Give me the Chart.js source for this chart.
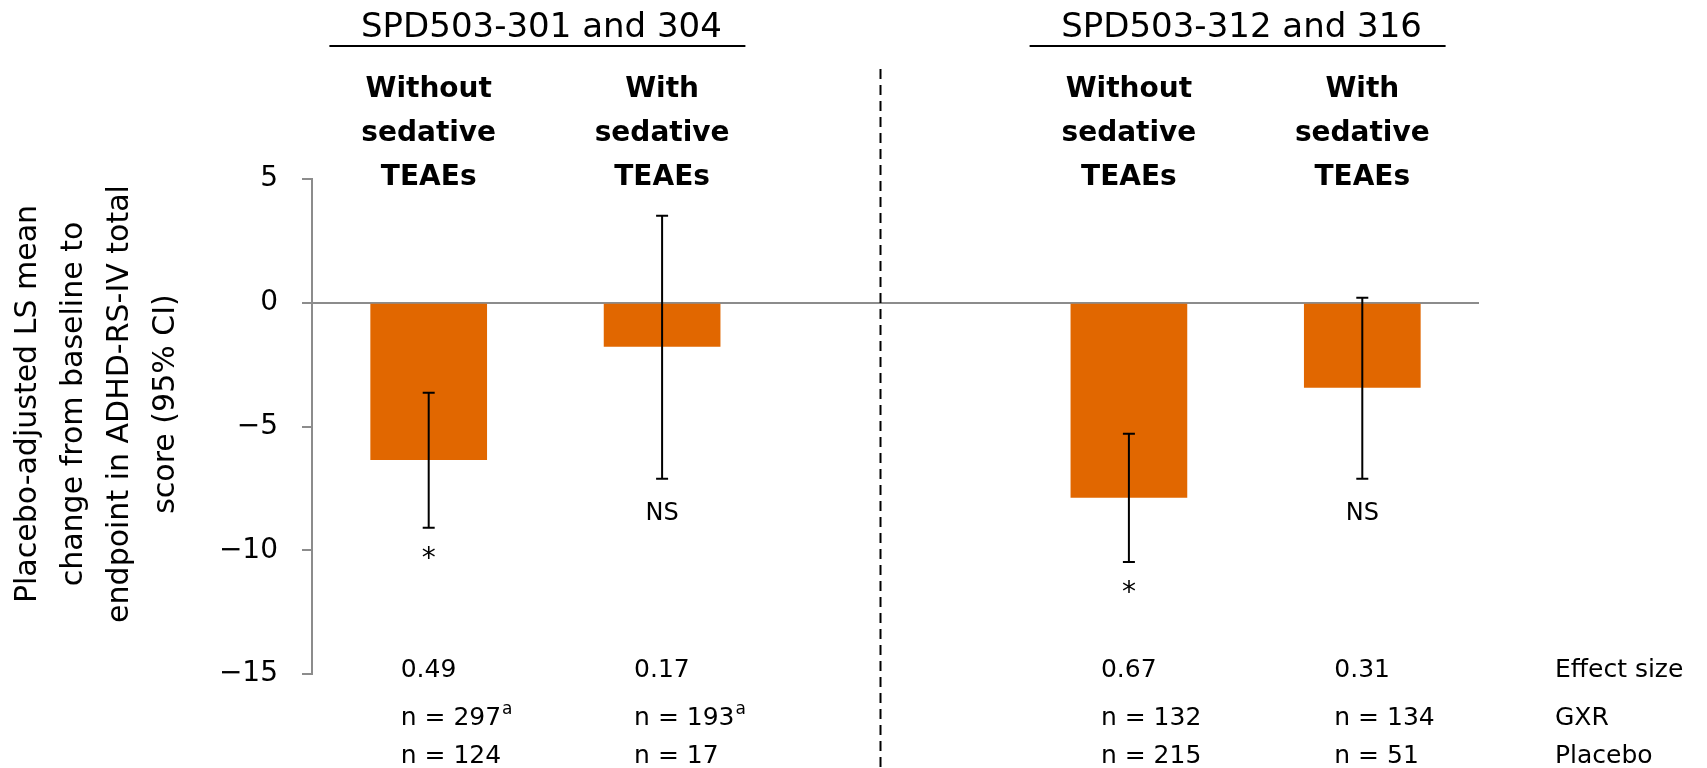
<!DOCTYPE html>
<html>
<head>
<meta charset="utf-8">
<script src="https://cdn.jsdelivr.net/npm/chart.js@4.4.1/dist/chart.umd.min.js"></script>
<style>
  html, body { margin: 0; padding: 0; background: #fff; }
  #wrap { width: 1707px; height: 768px; }
</style>
</head>
<body>
<div id="wrap"><canvas id="chart"></canvas></div>
<script>
// study groups and columns (index 2 is the empty gap between the two pairs)
const groups = ['SPD503-301 and 304', 'SPD503-312 and 316'];
const categories = [
  ['Without', 'sedative', 'TEAEs'],
  ['With', 'sedative', 'TEAEs'],
  '',
  ['Without', 'sedative', 'TEAEs'],
  ['With', 'sedative', 'TEAEs'],
];

// placebo-adjusted LS mean change and 95% CI
const lsMeanDiff = [-6.35, -1.78, null, -7.88, -3.43];
const ciLower = [-9.09, -7.11, null, -10.47, -7.11];
const ciUpper = [-3.64, 3.52, null, -5.29, 0.2];
const significance = ['*', 'NS', '', '*', 'NS'];

// table under the chart
const effectSize = ['0.49', '0.17', '', '0.67', '0.31'];
const gxrN = ['297', '193', '', '132', '134'];
const gxrNote = ['a', 'a', '', '', ''];
const placeboN = ['124', '17', '', '215', '51'];
const rowLabels = ['Effect size', 'GXR', 'Placebo'];

const yTicks = [5, 0, -5, -10, -15];
const yTitle = ['Placebo-adjusted LS mean', 'change from baseline to', 'endpoint in ADHD-RS-IV total', 'score (95% CI)'];

const FONT = "'DejaVu Sans', sans-serif";
const BAR = '#E16700';
const GREY = '#8c8c8c';

const annotations = {
  id: 'annotations',
  afterDatasetsDraw(chart) {
    const { ctx, scales: { x, y } } = chart;
    ctx.save();
    // error bars
    ctx.strokeStyle = '#000';
    ctx.lineWidth = 2;
    lsMeanDiff.forEach((v, i) => {
      if (v === null) return;
      const px = x.getPixelForValue(i);
      const lo = y.getPixelForValue(ciLower[i]);
      const hi = y.getPixelForValue(ciUpper[i]);
      ctx.beginPath();
      ctx.moveTo(px, hi); ctx.lineTo(px, lo);
      ctx.moveTo(px - 6, hi); ctx.lineTo(px + 6, hi);
      ctx.moveTo(px - 6, lo); ctx.lineTo(px + 6, lo);
      ctx.stroke();
      // significance marks
      ctx.fillStyle = '#000';
      ctx.textAlign = 'center';
      ctx.textBaseline = 'alphabetic';
      const star = significance[i] === '*';
      ctx.font = (star ? '28px ' : '24px ') + FONT;
      ctx.fillText(significance[i], px, lo + (star ? 39 : 41));
    });
    ctx.restore();
  },
  afterDraw(chart) {
    const { ctx, chartArea, scales: { x, y } } = chart;
    ctx.save();
    ctx.fillStyle = '#000';
    ctx.strokeStyle = '#000';

    // group headers with underline
    const pairs = [[0, 1], [3, 4]];
    pairs.forEach((p, g) => {
      const cx = (x.getPixelForValue(p[0]) + x.getPixelForValue(p[1])) / 2 - 8;
      ctx.font = '34px ' + FONT;
      ctx.textAlign = 'center';
      ctx.textBaseline = 'alphabetic';
      ctx.fillText(groups[g], cx + 4, 37);
      ctx.lineWidth = 2;
      ctx.beginPath();
      ctx.moveTo(cx - 208, 46); ctx.lineTo(cx + 208, 46);
      ctx.stroke();
    });

    // column headings
    ctx.font = 'bold 28px ' + FONT;
    categories.forEach((lines, i) => {
      if (!Array.isArray(lines)) return;
      const px = x.getPixelForValue(i);
      lines.forEach((t, k) => ctx.fillText(t, px, 97 + k * 44));
    });

    // dashed separator
    ctx.lineWidth = 2;
    ctx.setLineDash([10, 6]);
    ctx.beginPath();
    const sx = x.getPixelForValue(2) - 15;
    ctx.moveTo(sx, 69); ctx.lineTo(sx, 768);
    ctx.stroke();
    ctx.setLineDash([]);

    // table under the chart
    const base = chartArea.bottom;
    const rows = [base + 3, base + 51, base + 89];
    ctx.textAlign = 'left';
    ctx.font = '25px ' + FONT;
    categories.forEach((c, i) => {
      if (!effectSize[i]) return;
      const lx = x.getPixelForValue(i) - 28;
      ctx.font = '25px ' + FONT;
      ctx.fillText(effectSize[i], lx, rows[0]);
      const gText = 'n = ' + gxrN[i];
      ctx.fillText(gText, lx, rows[1]);
      if (gxrNote[i]) {
        const w = ctx.measureText(gText).width;
        ctx.font = '17px ' + FONT;
        ctx.fillText(gxrNote[i], lx + w + 1, rows[1] - 11);
        ctx.font = '25px ' + FONT;
      }
      ctx.fillText('n = ' + placeboN[i], lx, rows[2]);
    });
    rowLabels.forEach((t, k) => ctx.fillText(t, chartArea.right + 76, rows[k]));

    // y axis title
    ctx.font = '30px ' + FONT;
    ctx.textAlign = 'center';
    ctx.textBaseline = 'middle';
    const cy = chartArea.top + 225;
    yTitle.forEach((t, k) => {
      ctx.save();
      ctx.translate(28 + k * 46, cy);
      ctx.rotate(-Math.PI / 2);
      ctx.fillText(t, 0, 0);
      ctx.restore();
    });
    ctx.restore();
  }
};

new Chart(document.getElementById('chart'), {
  type: 'bar',
  data: {
    labels: categories,
    datasets: [{
      data: lsMeanDiff,
      backgroundColor: BAR,
      borderWidth: 0,
      barPercentage: 0.5,
      categoryPercentage: 1,
    }],
  },
  options: {
    responsive: true,
    maintainAspectRatio: false,
    animation: false,
    layout: { padding: { left: 0, top: 179, right: 228, bottom: 94 } },
    plugins: { legend: { display: false }, tooltip: { enabled: false } },
    scales: {
      x: { display: false },
      y: {
        min: -15,
        max: 5,
        afterBuildTicks: s => { s.ticks = yTicks.map(v => ({ value: v })); },
        afterFit: s => { s.width = 312; },
        border: { color: GREY, width: 2 },
        grid: {
          color: c => (c.tick && c.tick.value === 0 ? GREY : 'rgba(0,0,0,0)'),
          lineWidth: 2,
          tickColor: GREY,
          tickLength: 10,
          tickWidth: 2,
        },
        ticks: {
          padding: 24,
          color: '#000',
          font: { family: FONT, size: 28 },
          callback: v => (v < 0 ? '\u2212' + Math.abs(v) : String(v)),
        },
      },
    },
  },
  plugins: [annotations],
});
</script>
</body>
</html>
